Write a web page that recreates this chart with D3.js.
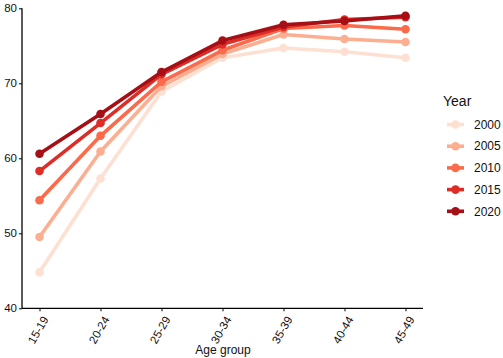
<!DOCTYPE html>
<html><head><meta charset="utf-8">
<script src="https://cdn.jsdelivr.net/npm/d3@7"></script>
<style>body{margin:0;background:#fff}svg{display:block;font-family:"Liberation Sans",Arial,sans-serif}</style>
</head><body><svg id="c" width="503" height="358"></svg>
<script>
const ageGroups = ["15-19","20-24","25-29","30-34","35-39","40-44","45-49"];
const years = ["2000","2005","2010","2015","2020"];
const v2000 = [44.8, 57.3, 68.9, 73.4, 74.7, 74.2, 73.4];
const v2005 = [49.5, 60.9, 69.6, 73.9, 76.5, 75.9, 75.5];
const v2010 = [54.4, 63.0, 70.2, 74.4, 77.3, 77.7, 77.2];
const v2015 = [58.3, 64.7, 71.2, 75.2, 77.5, 78.5, 78.8];
const v2020 = [60.6, 65.9, 71.5, 75.7, 77.8, 78.3, 79.0];
const yTicks = [40, 50, 60, 70, 80];
const colors = ["#fee0d2", "#fcae91", "#fb6a4a", "#de2d26", "#a50f15"];
const seriesVals = [v2000, v2005, v2010, v2015, v2020];

const svg = d3.select("#c");
const x = d3.scalePoint().domain(ageGroups).range([22, 423]).padding(0.287);
const y = d3.scaleLinear().domain([40, 80]).range([308.3, 8.3]);

const series = years.map((yr, i) => ({year: yr, color: colors[i],
  pts: ageGroups.map((a, j) => ({a, v: seriesVals[i][j]}))}));

const line = d3.line().x(d => x(d.a)).y(d => y(d.v));
const g = svg.append("g");
series.forEach(s => {
  g.append("path").attr("d", line(s.pts)).attr("fill", "none")
    .attr("stroke", s.color).attr("stroke-width", 3.6).attr("stroke-linejoin", "round");
  g.selectAll(null).data(s.pts).enter().append("circle")
    .attr("cx", d => x(d.a)).attr("cy", d => y(d.v)).attr("r", 4.3).attr("fill", s.color);
});

// axes
const yAxis = svg.append("g").attr("transform", "translate(22,0)")
  .call(d3.axisLeft(y).tickValues(yTicks).tickSize(3).tickPadding(2));
const xAxis = svg.append("g").attr("transform", "translate(0,308.3)")
  .call(d3.axisBottom(x).tickSize(3).tickPadding(2));
[yAxis, xAxis].forEach(a => {
  a.select(".domain").attr("stroke", "#000").attr("stroke-width", 1.3);
  a.selectAll(".tick line").attr("stroke", "#000").attr("stroke-width", 1);
  a.selectAll("text").attr("fill", "#111").style("font-size", "11.5px")
    .style("font-family", "'Liberation Sans',Arial,sans-serif");
});
yAxis.select(".domain").attr("d", "M-0,308.3V8.3");
xAxis.select(".domain").attr("d", "M22,0H423");
xAxis.selectAll("text").attr("text-anchor", "end")
  .attr("transform", "translate(6,8) rotate(-60)").attr("dy", "0.35em").attr("y", 0).attr("x", -1);

svg.append("text").attr("x", 223).attr("y", 354).attr("text-anchor", "middle")
  .style("font-size", "12px").attr("fill", "#111").text("Age group");

// legend
const lg = svg.append("g");
lg.append("text").attr("x", 443).attr("y", 106).style("font-size", "14px").attr("fill", "#111").text("Year");
series.forEach((s, i) => {
  const cy = 124.5 + i * 21.7;
  lg.append("line").attr("x1", 447).attr("x2", 464).attr("y1", cy).attr("y2", cy)
    .attr("stroke", s.color).attr("stroke-width", 3.6);
  lg.append("circle").attr("cx", 455.5).attr("cy", cy).attr("r", 4.3).attr("fill", s.color);
  lg.append("text").attr("x", 474).attr("y", cy).attr("dy", "0.35em")
    .style("font-size", "12px").attr("fill", "#111").text(s.year);
});
</script></body></html>
